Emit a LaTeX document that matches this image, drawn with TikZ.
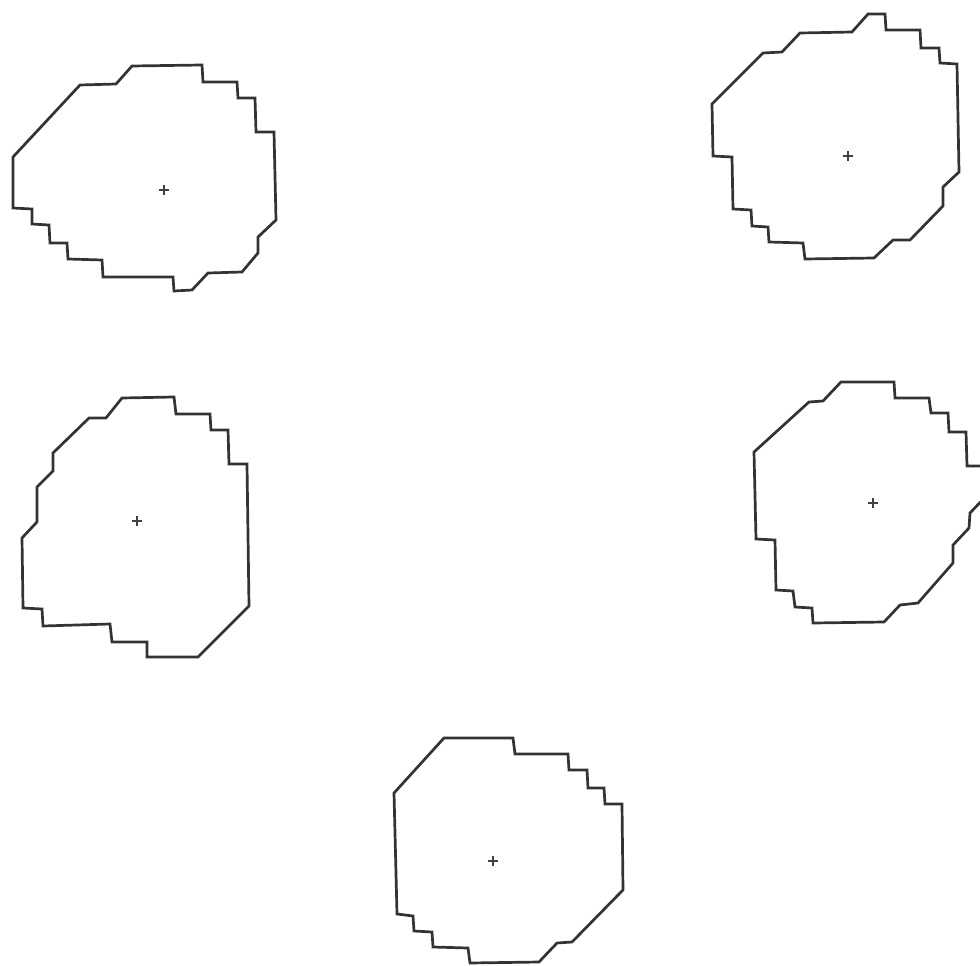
\documentclass[tikz,border=0pt]{standalone}
\usepackage{tikz}
\usetikzlibrary{calc}
\tikzset{
  outline/.style={line width=2.7pt, draw=black!80, line join=miter},
  plusmark/.style={line width=2pt, draw=black!75}
}
\newcommand{\crossmark}[1]{%
  \draw[plusmark] ($(#1)+(-5,0)$) -- ($(#1)+(5,0)$);
  \draw[plusmark] ($(#1)+(0,-5)$) -- ($(#1)+(0,5)$);}

\begin{document}
\begin{tikzpicture}[x=1pt, y=-1pt]
  % Frame (pixel coordinates, y downwards)
  \useasboundingbox (0,0) rectangle (980,966);
  \clip (0,0) rectangle (980,966);

  % Upper left region
  \draw[outline] (132,66) -- (202,65) -- (203,82) -- (237,82) -- (238,98)
    -- (255,98) -- (256,132) -- (274,132) -- (276,220) -- (258,237)
    -- (258,253) -- (242,272) -- (208,273) -- (192,290) -- (174,291)
    -- (173,277) -- (103,277) -- (102,260) -- (68,259) -- (67,243)
    -- (50,243) -- (49,225) -- (32,224) -- (32,209) -- (13,208)
    -- (13,157) -- (80,85) -- (116,84) -- cycle;
  \coordinate (c1) at (164,190);

  % Upper right region
  \draw[outline] (868,14) -- (885,14) -- (886,30) -- (920,30) -- (921,48)
    -- (939,48) -- (940,63) -- (957,64) -- (959,172) -- (943,187)
    -- (943,206) -- (910,240) -- (893,240) -- (874,258) -- (805,259)
    -- (803,243) -- (769,242) -- (768,227) -- (752,226) -- (751,210)
    -- (733,209) -- (732,157) -- (713,156) -- (712,104) -- (763,53)
    -- (782,52) -- (800,33) -- (852,32) -- cycle;
  \coordinate (c2) at (848,156);

  % Middle left region
  \draw[outline] (122,398) -- (174,397) -- (176,414) -- (210,414) -- (211,430)
    -- (228,430) -- (229,464) -- (247,464) -- (249,606) -- (198,657)
    -- (147,657) -- (147,642) -- (112,642) -- (110,624) -- (43,626)
    -- (42,609) -- (23,608) -- (22,538) -- (37,522) -- (37,487)
    -- (53,471) -- (53,453) -- (89,418) -- (106,418) -- cycle;
  \coordinate (c3) at (137,521);

  % Middle right region (runs off the edge)
  \draw[outline] (841,382) -- (894,382) -- (895,398) -- (929,398) -- (931,413)
    -- (948,413) -- (949,432) -- (966,432) -- (967,466) -- (990,466)
    -- (990,492) -- (970,513) -- (969,528) -- (953,545) -- (953,563)
    -- (918,603) -- (900,605) -- (884,622) -- (813,623) -- (812,608)
    -- (795,607) -- (793,591) -- (776,590) -- (775,540) -- (756,539)
    -- (754,452) -- (809,402) -- (823,401) -- cycle;
  \coordinate (c4) at (873,503);

  % Bottom region
  \draw[outline] (444,738) -- (513,738) -- (515,754) -- (568,754) -- (569,770)
    -- (587,770) -- (588,788) -- (604,788) -- (605,804) -- (622,804)
    -- (623,890) -- (572,942) -- (557,943) -- (539,962) -- (470,963)
    -- (468,948) -- (433,947) -- (432,932) -- (414,931) -- (413,916)
    -- (397,914) -- (394,793) -- cycle;
  \coordinate (c5) at (493,861);

  % Centre marks
  \foreach \c in {c1,c2,c3,c4,c5} {\crossmark{\c}}
\end{tikzpicture}
\end{document}
